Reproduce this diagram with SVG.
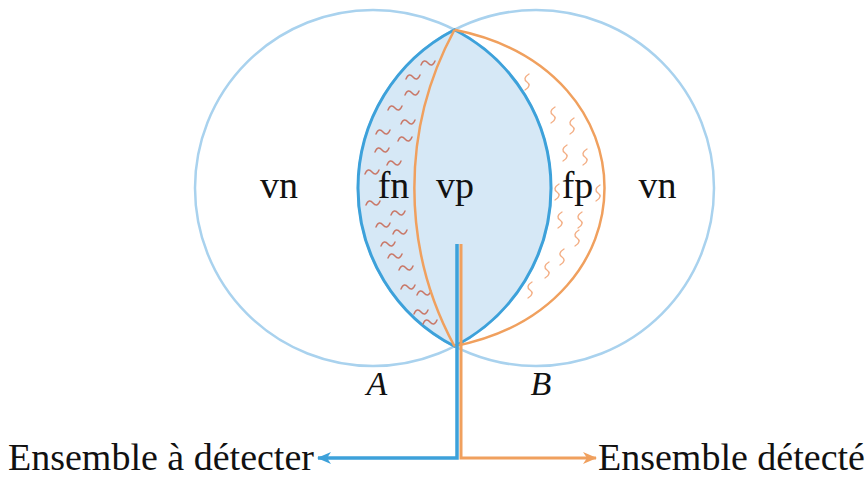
<svg xmlns="http://www.w3.org/2000/svg" xmlns:xlink="http://www.w3.org/1999/xlink" width="867" height="499" viewBox="0 0 867 499">
<style>
.circ{fill:none;stroke:#a9d2ee;stroke-width:2.5}
.lens{fill:#d6e8f6;stroke:#3da1da;stroke-width:3}
.or{fill:none;stroke:#f0a05e;stroke-width:2.5}
.lbl{font-family:"Liberation Serif",serif;font-size:38px;fill:#111;text-anchor:middle}
.it{font-style:italic;font-size:34px}
.big{font-family:"Liberation Serif",serif;font-size:38px;fill:#111}
.tl{fill:none;stroke:#c97868;stroke-width:1.5;stroke-linecap:round}
.sq{fill:none;stroke:#f3ae84;stroke-width:1.4;stroke-linecap:round}
</style>
<defs>
<path id="tilde" class="tl" d="M-7,2 C-5,-3 -2.5,-3 0,0 S5,3 7,-2"/>
<path id="squig" class="sq" d="M2,-8 C-3,-5 -3,-2 0,0 S3,5 -2,8"/>
<marker id="ab" viewBox="0 0 14 12" refX="13" refY="6" markerWidth="14" markerHeight="12" markerUnits="userSpaceOnUse" orient="auto">
<path d="M0,0 L14,6 L0,12 L4,6 Z" fill="#3da1da"/>
</marker>
<marker id="ao" viewBox="0 0 14 12" refX="13" refY="6" markerWidth="14" markerHeight="12" markerUnits="userSpaceOnUse" orient="auto">
<path d="M0,0 L14,6 L0,12 L4,6 Z" fill="#f0a05e"/>
</marker>
</defs>

<g id="setA">
<circle class="circ" cx="373" cy="188" r="178"/>
<text class="lbl it" x="377" y="395">A</text>
</g>
<g id="setB">
<circle class="circ" cx="536" cy="188" r="178"/>
<text class="lbl it" x="541" y="395">B</text>
</g>

<g id="vp">
<path class="lens" d="M454.5,29.75 A178,178 0 0 1 454.5,346.25 A178,178 0 0 1 454.5,29.75 Z"/>
</g>

<g id="fn">
<g>
<use xlink:href="#tilde" x="428" y="63"/>
<use xlink:href="#tilde" x="413" y="77"/>
<use xlink:href="#tilde" x="412" y="93"/>
<use xlink:href="#tilde" x="395" y="108"/>
<use xlink:href="#tilde" x="408" y="122"/>
<use xlink:href="#tilde" x="383" y="132"/>
<use xlink:href="#tilde" x="405" y="139"/>
<use xlink:href="#tilde" x="382" y="150"/>
<use xlink:href="#tilde" x="394" y="163"/>
<use xlink:href="#tilde" x="372" y="172"/>
<use xlink:href="#tilde" x="373" y="203"/>
<use xlink:href="#tilde" x="398" y="213"/>
<use xlink:href="#tilde" x="383" y="225"/>
<use xlink:href="#tilde" x="400" y="232"/>
<use xlink:href="#tilde" x="388" y="244"/>
<use xlink:href="#tilde" x="395" y="256"/>
<use xlink:href="#tilde" x="406" y="268"/>
<use xlink:href="#tilde" x="408" y="287"/>
<use xlink:href="#tilde" x="424" y="293"/>
<use xlink:href="#tilde" x="421" y="312"/>
<use xlink:href="#tilde" x="430" y="322"/>
</g>
<text class="lbl" x="393.5" y="198">fn</text>
</g>

<g id="fp">
<g>
<use xlink:href="#squig" x="527" y="82"/>
<use xlink:href="#squig" x="553" y="115"/>
<use xlink:href="#squig" x="572" y="126"/>
<use xlink:href="#squig" x="565" y="153"/>
<use xlink:href="#squig" x="585" y="157"/>
<use xlink:href="#squig" x="557" y="192"/>
<use xlink:href="#squig" x="598" y="193"/>
<use xlink:href="#squig" x="560" y="220"/>
<use xlink:href="#squig" x="580" y="220"/>
<use xlink:href="#squig" x="577" y="238"/>
<use xlink:href="#squig" x="562" y="257"/>
<use xlink:href="#squig" x="547" y="270"/>
<use xlink:href="#squig" x="530" y="290"/>
</g>
<text class="lbl" x="577.5" y="198">fp</text>
</g>

<g id="vn-left"><text class="lbl" x="279" y="198">vn</text></g>
<g id="vn-right"><text class="lbl" x="657.5" y="198">vn</text></g>
<g id="vp-label"><text class="lbl" x="455" y="198">vp</text></g>

<g id="detected-boundary">
<path class="or" d="M454.5,29.75 A332,332 0 0 0 454.5,346.25"/>
<path class="or" d="M454.5,29.75 C654.5,69.75 654.5,306.25 454.5,346.25"/>
</g>

<g id="connectors">
<path d="M457,244 L457,458 L318,458" fill="none" stroke="#3da1da" stroke-width="3.5" marker-end="url(#ab)"/>
<path d="M461,244 L461,458 L596,458" fill="none" stroke="#f0a05e" stroke-width="3" marker-end="url(#ao)"/>
</g>

<g id="label-a-detecter"><text class="big" x="8" y="470">Ensemble à détecter</text></g>
<g id="label-detecte"><text class="big" x="598" y="470">Ensemble détecté</text></g>
</svg>
